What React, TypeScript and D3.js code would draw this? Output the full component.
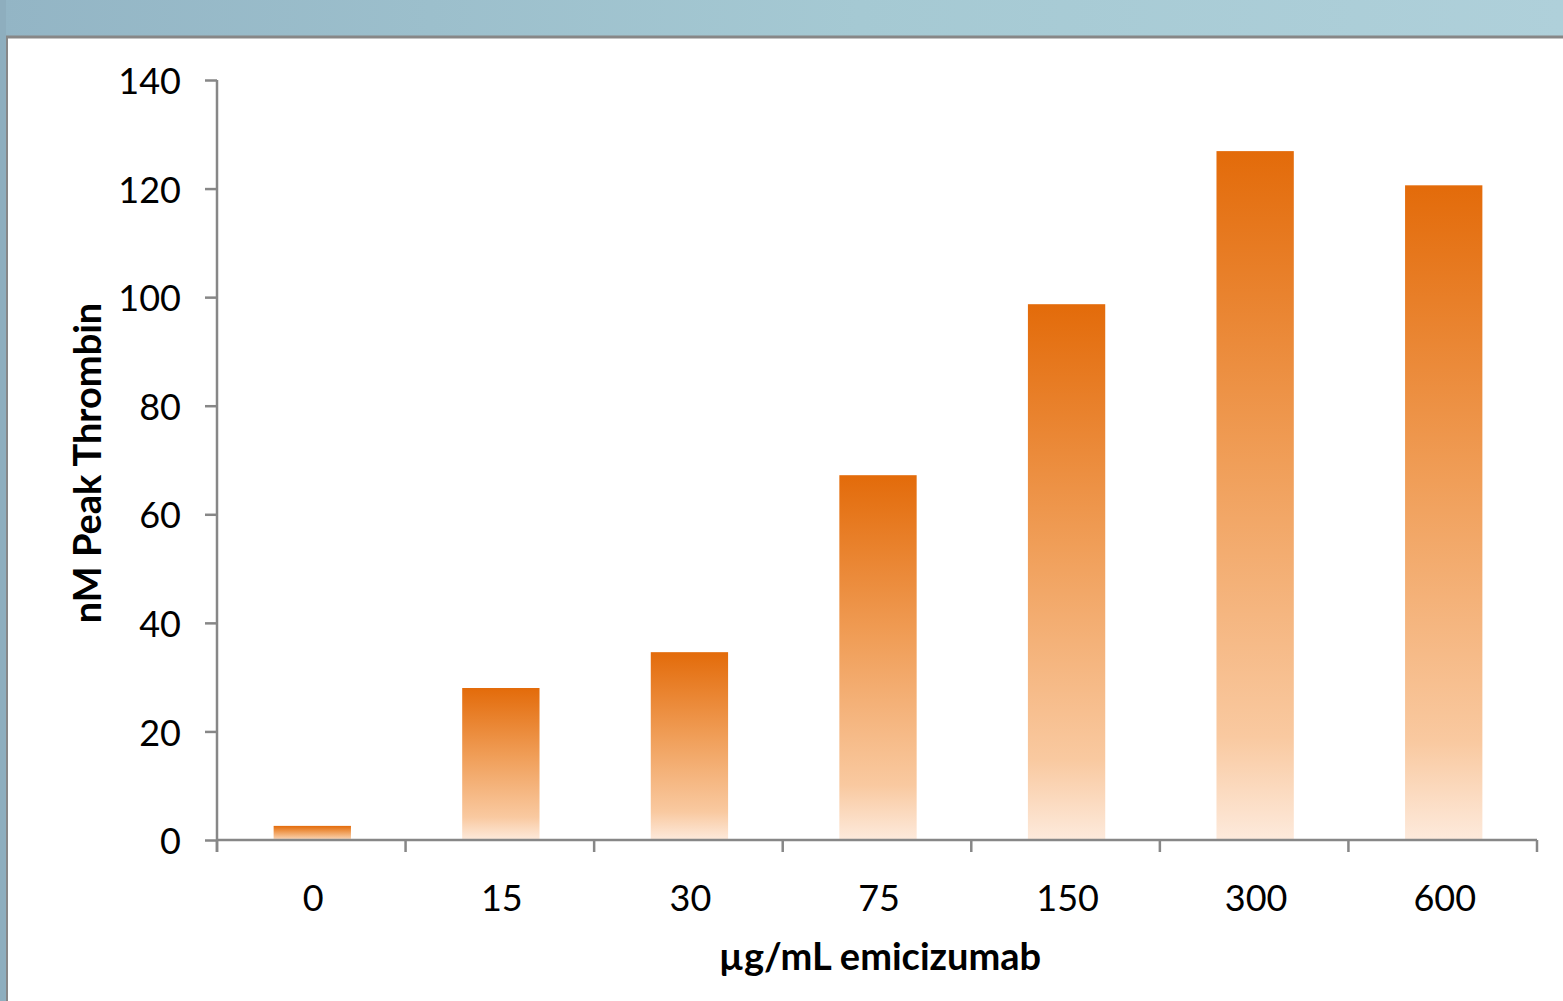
import React, { useEffect, useRef } from 'react'
import * as d3 from 'd3'

// peak thrombin by emicizumab dose
const doses = ['0', '15', '30', '75', '150', '300', '600']
const peakThrombin = [2.6, 28, 34.6, 67.2, 98.7, 126.9, 120.6]
const yTicks = [0, 20, 40, 60, 80, 100, 120, 140]

const xTitle = 'µg/mL emicizumab'
const yTitle = 'nM Peak Thrombin'

function App () {
  const ref = useRef<SVGSVGElement>(null)

  useEffect(() => {
    document.body.style.margin = '0'
    const width = 1563
    const height = 1001
    const svg = d3.select(ref.current)
    svg.selectAll('*').remove()
    svg.attr('width', width).attr('height', height)

    const defs = svg.append('defs')
    const band = defs.append('linearGradient').attr('id', 'topband')
      .attr('x1', 0).attr('x2', 1).attr('y1', 0).attr('y2', 0)
    band.append('stop').attr('offset', 0).attr('stop-color', '#93b5c5')
    band.append('stop').attr('offset', 0.55).attr('stop-color', '#a5c9d3')
    band.append('stop').attr('offset', 1).attr('stop-color', '#afd0da')

    const barGrad = defs.append('linearGradient').attr('id', 'bargrad')
      .attr('x1', 0).attr('x2', 0).attr('y1', 0).attr('y2', 1)
    barGrad.append('stop').attr('offset', 0).attr('stop-color', '#e36b0a')
    barGrad.append('stop').attr('offset', 0.45).attr('stop-color', '#f09e58')
    barGrad.append('stop').attr('offset', 0.85).attr('stop-color', '#f9c9a0')
    barGrad.append('stop').attr('offset', 1).attr('stop-color', '#fdeadc')

    // window frame
    svg.append('rect').attr('width', width).attr('height', height).attr('fill', '#ffffff')
    svg.append('rect').attr('width', width).attr('height', 37).attr('fill', 'url(#topband)')
    svg.append('rect').attr('width', 6).attr('height', height).attr('fill', '#8eaebe')
    svg.append('line').attr('x1', 6).attr('x2', width).attr('y1', 37).attr('y2', 37)
      .attr('stroke', '#878787').attr('stroke-width', 3)
    svg.append('line').attr('x1', 7).attr('x2', 7).attr('y1', 36).attr('y2', height)
      .attr('stroke', '#878787').attr('stroke-width', 2)

    const left = 217
    const right = 1537
    const top = 80
    const bottom = 840

    const x = d3.scaleBand()
      .domain(doses)
      .range([left, right])
      .paddingInner(0.59)
      .paddingOuter(0.295)

    const y = d3.scaleLinear()
      .domain([0, 140])
      .range([bottom, top])

    const axisColor = '#878787'
    const font = 'Lato, "DejaVu Sans", sans-serif'

    // bars
    svg.append('g')
      .selectAll('rect')
      .data(peakThrombin)
      .enter()
      .append('rect')
      .attr('x', (d, i) => (x(doses[i]) as number) + 1)
      .attr('y', d => y(d))
      .attr('width', x.bandwidth())
      .attr('height', d => bottom - y(d))
      .attr('fill', 'url(#bargrad)')

    // y axis
    const yAxis = svg.append('g')
      .attr('transform', 'translate(' + left + ',0)')
      .call(d3.axisLeft(y).tickValues(yTicks).tickSize(12).tickPadding(24))
    yAxis.select('.domain').attr('stroke', axisColor).attr('stroke-width', 2.5)
      .attr('d', 'M0,' + top + 'V' + (bottom + 12))
    yAxis.selectAll('.tick line').attr('stroke', axisColor).attr('stroke-width', 2.5)
    yAxis.selectAll('.tick text')
      .attr('font-family', font).attr('font-size', 36).attr('fill', '#000')
      .attr('dy', '0.38em')

    // x axis
    const edges = d3.range(doses.length + 1).map(i => left + i * (right - left) / doses.length)
    const xAxis = svg.append('g')
      .attr('transform', 'translate(0,' + bottom + ')')
      .call(d3.axisBottom(x).tickSize(0).tickPadding(45))
    xAxis.select('.domain').attr('stroke', axisColor).attr('stroke-width', 2.5)
      .attr('d', 'M' + left + ',0H' + right)
    xAxis.selectAll('.tick text')
      .attr('font-family', font).attr('font-size', 36).attr('fill', '#000')
      .attr('dx', 2)
    xAxis.selectAll('.edge')
      .data(edges)
      .enter()
      .append('line')
      .attr('class', 'edge')
      .attr('x1', d => d).attr('x2', d => d)
      .attr('y1', 0).attr('y2', 12)
      .attr('stroke', axisColor).attr('stroke-width', 2.5)

    // titles
    svg.append('text')
      .attr('x', 880)
      .attr('y', 970)
      .attr('text-anchor', 'middle')
      .attr('font-family', font)
      .attr('font-weight', 'bold')
      .attr('font-size', 38)
      .text(xTitle)

    svg.append('g')
      .attr('transform', 'translate(101,' + 463 + ')')
      .append('text')
      .attr('text-anchor', 'middle')
      .attr('transform', 'rotate(-90)')
      .attr('font-family', font)
      .attr('font-weight', 'bold')
      .attr('font-size', 38)
      .text(yTitle)
  }, [])

  return <svg ref={ref} style={{ display: 'block' }} />
}

export default App
